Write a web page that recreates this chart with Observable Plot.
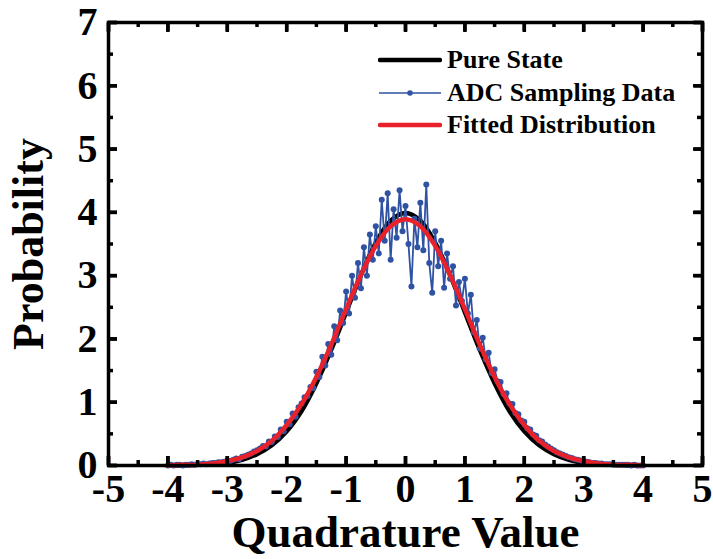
<!DOCTYPE html>
<html><head><meta charset="utf-8">
<script src="https://cdn.jsdelivr.net/npm/d3@7"></script>
<script src="https://cdn.jsdelivr.net/npm/@observablehq/plot@0.6"></script>
<style>
body{margin:0;background:#fff;}
#wrap{position:relative;width:713px;height:559px;font-family:"Liberation Serif","Times New Roman",serif;}
#wrap > svg{font-family:"Liberation Serif","Times New Roman",serif;font-weight:bold;}
#legend{position:absolute;left:378px;top:44px;font-weight:bold;font-size:26px;color:#000;}
.row{display:flex;align-items:center;height:32.5px;white-space:nowrap;}
.row svg{margin-right:5px;}
</style></head><body><div id="wrap"><div id="legend"></div></div>
<script>
// ---- data ----
const xTicks = [-5,-4,-3,-2,-1,0,1,2,3,4,5];
const xMinor = [-4.5,-3.5,-2.5,-1.5,-0.5,0.5,1.5,2.5,3.5,4.5];
const yTicks = [0,1,2,3,4,5,6,7];
const yMinor = [0.5,1.5,2.5,3.5,4.5,5.5,6.5];

const curveX = [-4,-3.75,-3.5,-3.25,-3,-2.75,-2.5,-2.25,-2,-1.75,-1.5,-1.25,-1,-0.75,-0.5,-0.25,0,
  0.25,0.5,0.75,1,1.25,1.5,1.75,2,2.25,2.5,2.75,3,3.25,3.5,3.75,4];
const pureY = [0.00,0.00,0.01,0.02,0.04,0.09,0.18,0.32,0.54,0.86,1.30,1.83,2.42,3.01,3.52,3.87,3.99,
  3.87,3.52,3.01,2.42,1.83,1.30,0.86,0.54,0.32,0.18,0.09,0.04,0.02,0.01,0.00,0.00];
const fitY = [0.00,0.01,0.01,0.03,0.07,0.13,0.23,0.39,0.64,0.97,1.40,1.91,2.47,3.01,3.47,3.78,3.89,
  3.78,3.47,3.01,2.47,1.91,1.40,0.97,0.64,0.39,0.23,0.13,0.07,0.03,0.01,0.01,0.00];

const adcX = [-4.00,-3.95,-3.90,-3.85,-3.80,-3.75,-3.70,-3.65,-3.60,-3.55,-3.50,-3.45,-3.40,-3.35,-3.30,-3.25,-3.20,-3.15,-3.10,-3.05,
  -3.00,-2.95,-2.90,-2.85,-2.80,-2.75,-2.70,-2.65,-2.60,-2.55,-2.50,-2.45,-2.40,-2.35,-2.30,-2.25,-2.20,-2.15,-2.10,-2.05,
  -2.00,-1.95,-1.90,-1.85,-1.80,-1.75,-1.70,-1.65,-1.60,-1.55,-1.50,-1.45,-1.40,-1.35,-1.30,-1.25,-1.20,-1.15,-1.10,-1.05,
  -1.00,-0.95,-0.90,-0.85,-0.80,-0.75,-0.70,-0.65,-0.60,-0.55,-0.50,-0.45,-0.40,-0.35,-0.30,-0.25,-0.20,-0.15,-0.10,-0.05,
  0.00,0.05,0.10,0.15,0.20,0.25,0.30,0.35,0.40,0.45,0.50,0.55,0.60,0.65,0.70,0.75,0.80,0.85,0.90,0.95,
  1.00,1.05,1.10,1.15,1.20,1.25,1.30,1.35,1.40,1.45,1.50,1.55,1.60,1.65,1.70,1.75,1.80,1.85,1.90,1.95,
  2.00,2.05,2.10,2.15,2.20,2.25,2.30,2.35,2.40,2.45,2.50,2.55,2.60,2.65,2.70,2.75,2.80,2.85,2.90,2.95,
  3.00,3.05,3.10,3.15,3.20,3.25,3.30,3.35,3.40,3.45,3.50,3.55,3.60,3.65,3.70,3.75,3.80,3.85,3.90,3.95,4.00];
const adcY = [0.00,0.01,0.00,0.01,0.01,0.00,0.01,0.01,0.02,0.01,0.02,0.02,0.03,0.02,0.03,0.04,0.04,0.05,0.05,0.06,
  0.08,0.07,0.09,0.11,0.10,0.14,0.15,0.17,0.19,0.22,0.24,0.27,0.31,0.30,0.38,0.37,0.46,0.45,0.57,0.54,
  0.69,0.65,0.82,0.77,0.92,0.98,1.08,1.10,1.24,1.22,1.48,1.40,1.72,1.58,1.92,1.75,2.20,1.98,2.45,2.25,
  2.75,2.40,3.00,2.65,3.20,2.80,3.45,3.00,3.65,3.25,3.78,3.35,4.20,3.55,4.30,3.25,4.05,3.60,4.35,3.70,
  4.10,3.50,2.83,3.90,3.45,4.15,3.40,4.44,3.20,2.73,3.70,3.15,3.55,2.81,3.35,2.95,3.15,2.53,2.90,2.60,
  2.95,2.40,2.70,2.10,2.30,1.85,2.02,1.68,1.78,1.46,1.52,1.33,1.32,1.13,1.14,0.98,0.97,0.83,0.81,0.71,
  0.69,0.59,0.57,0.49,0.47,0.40,0.38,0.33,0.30,0.27,0.24,0.21,0.19,0.17,0.15,0.13,0.12,0.10,0.09,0.08,
  0.07,0.06,0.05,0.04,0.04,0.03,0.03,0.02,0.02,0.02,0.01,0.01,0.01,0.01,0.01,0.01,0.00,0.01,0.00,0.00,0.00];

const seriesNames = ["Pure State","ADC Sampling Data","Fitted Distribution"];
const colors = {black:"#000000", blue:"#2f52a3", red:"#e8212b"};

const pure = curveX.map((x,i)=>({x, y:pureY[i]}));
const fit = curveX.map((x,i)=>({x, y:fitY[i]}));
const adc = adcX.map((x,i)=>({x, y:adcY[i]}));

const fmt = d => String(d);

const W = 713, H = 559, mL = 108, mR = 11, mT = 22, mB = 94;
const innerW = W - mL - mR, innerH = H - mT - mB;
const major = 9, minor = 5;
const tickStyle = {stroke:"#000", strokeWidth:3.5};
const ax = {strokeWidth:3.5, text:null, label:null};

const chart = Plot.plot({
  width:W, height:H,
  marginLeft:mL, marginRight:mR, marginTop:mT, marginBottom:mB,
  x:{domain:[-5,5]},
  y:{domain:[0,7]},
  marks:[
    Plot.line(pure,{x:"x", y:"y", stroke:colors.black, strokeWidth:4.5, curve:"catmull-rom"}),
    Plot.line(adc,{x:"x", y:"y", stroke:colors.blue, strokeWidth:1.8}),
    Plot.dot(adc,{x:"x", y:"y", r:3, fill:colors.blue, stroke:"none"}),
    Plot.line(fit,{x:"x", y:"y", stroke:colors.red, strokeWidth:4.5, curve:"catmull-rom"}),
    // inward ticks on all four sides
    Plot.ruleX(xTicks,{x:d=>d, insetTop:innerH-major, ...tickStyle}),
    Plot.ruleX(xTicks,{x:d=>d, insetBottom:innerH-major, ...tickStyle}),
    Plot.ruleX(xMinor,{x:d=>d, insetTop:innerH-minor, ...tickStyle}),
    Plot.ruleX(xMinor,{x:d=>d, insetBottom:innerH-minor, ...tickStyle}),
    Plot.ruleY(yTicks,{y:d=>d, insetRight:innerW-major, ...tickStyle}),
    Plot.ruleY(yTicks,{y:d=>d, insetLeft:innerW-major, ...tickStyle}),
    Plot.ruleY(yMinor,{y:d=>d, insetRight:innerW-minor, ...tickStyle}),
    Plot.ruleY(yMinor,{y:d=>d, insetLeft:innerW-minor, ...tickStyle}),
    Plot.axisX({anchor:"bottom", ticks:xTicks, tickSize:major, dy:-major, ...ax}),
    Plot.axisX({anchor:"top", ticks:xTicks, tickSize:major, dy:major, ...ax}),
    Plot.axisY({anchor:"left", ticks:yTicks, tickSize:major, dx:major, ...ax}),
    Plot.axisY({anchor:"right", ticks:yTicks, tickSize:major, dx:-major, ...ax}),
    Plot.axisX({anchor:"bottom", ticks:xTicks, tickSize:0, tickPadding:8, fontSize:40, tickFormat:fmt, label:null}),
    Plot.axisY({anchor:"left", ticks:yTicks, tickSize:0, tickPadding:11, fontSize:40, tickFormat:fmt, label:null}),
    Plot.frame({stroke:"#000", strokeWidth:3.5}),
    Plot.text(["Quadrature Value"],{text:d=>d, frameAnchor:"bottom", dy:81, fontSize:45, fontWeight:"bold"}),
    Plot.text(["Probability"],{text:d=>d, frameAnchor:"left", textAnchor:"middle", dx:-80, rotate:-90, fontSize:44, fontWeight:"bold"})
  ]
});
document.getElementById("wrap").prepend(chart);

// legend
const legend = document.getElementById("legend");
seriesNames.forEach((name,i)=>{
  const row = document.createElement("div");
  row.className = "row";
  let sw;
  if(i===0) sw = `<svg width="64" height="12"><line x1="2" y1="6" x2="62" y2="6" stroke="${colors.black}" stroke-width="4.5" stroke-linecap="round"/></svg>`;
  else if(i===1) sw = `<svg width="64" height="12"><line x1="1" y1="6" x2="63" y2="6" stroke="${colors.blue}" stroke-width="1.6"/><circle cx="32" cy="6" r="2.8" fill="${colors.blue}"/></svg>`;
  else sw = `<svg width="64" height="12"><line x1="2" y1="6" x2="62" y2="6" stroke="${colors.red}" stroke-width="4.5" stroke-linecap="round"/></svg>`;
  row.innerHTML = sw + `<span>${name}</span>`;
  legend.appendChild(row);
});
</script>
</body></html>
